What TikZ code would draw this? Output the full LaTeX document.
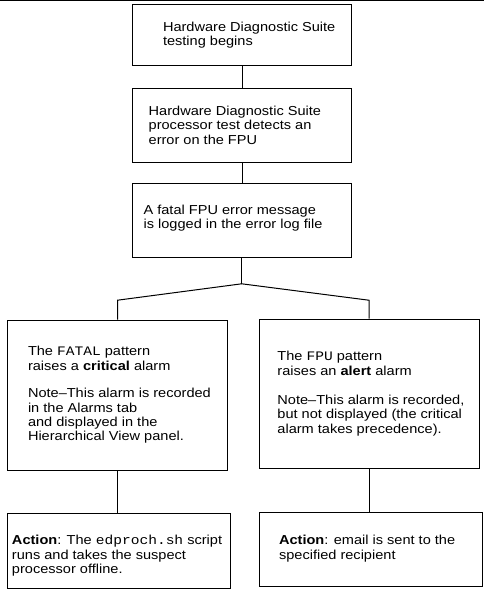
\documentclass[tikz,border=0pt]{standalone}
\usepackage{fontspec}
\setmainfont{Liberation Sans}[FakeStretch=1.12]
\setmonofont{Liberation Mono}[FakeStretch=1.12]
\usetikzlibrary{calc}
\begin{document}
\begin{tikzpicture}[x=1pt,y=-1pt,
  box/.style={draw, line width=1pt, inner sep=0pt, rectangle},
  txt/.style={anchor=west, align=left, inner sep=0pt, font=\fontsize{13}{14.4}\selectfont},
  conn/.style={line width=1pt}]
\useasboundingbox (0,0) rectangle (484,594);
\coordinate (tl) at (0,0.5);
\coordinate (tr) at (484,0.5);
\draw[conn] (tl) -- (tr);

\node[box, minimum width=219.4pt, minimum height=60.7pt] (b1) at (242,35.3) {};
\node[box, minimum width=219.4pt, minimum height=74pt] (b2) at (242,125.3) {};
\node[box, minimum width=219pt, minimum height=74pt] (b3) at (241.7,220.3) {};
\node[box, minimum width=220.4pt, minimum height=150pt] (b4) at (117.5,395) {};
\node[box, minimum width=219.7pt, minimum height=149.3pt] (b5) at (369.2,393.7) {};
\node[box, minimum width=222.3pt, minimum height=75pt] (b6) at (118.85,550.8) {};
\node[box, minimum width=222.7pt, minimum height=74.4pt] (b7) at (370.7,549.5) {};

\node[txt] (t1) at ($(b1.west)+(31,0)$) {Hardware Diagnostic Suite\\testing begins};
\node[txt] (t2) at ($(b2.west)+(16.7,0)$) {Hardware Diagnostic Suite\\processor test detects an\\error on the FPU};
\node[txt] (t3) at ($(b3.west)+(11.7,-2)$) {A fatal FPU error message\\is logged in the error log file};
\node[txt] (t4) at ($(b4.west)+(21,0)$) {The \texttt{FATAL} pattern\\raises a \textbf{critical} alarm\\[13pt]Note--This alarm is recorded\\in the Alarms tab\\and displayed in the\\Hierarchical View panel.};
\node[txt] (t5) at ($(b5.west)+(18.4,0)$) {The \texttt{FPU} pattern\\raises an \textbf{alert} alarm\\[15pt]Note--This alarm is recorded,\\but not displayed (the critical\\alarm takes precedence).};
\node[txt] (t6) at ($(b6.west)+(4.6,5)$) {\textbf{Action}: The \texttt{edproch.sh} script\\runs and takes the suspect\\processor offline.};
\node[txt] (t7) at ($(b7.west)+(20,-1)$) {\textbf{Action}: email is sent to the\\specified recipient};

\draw[conn] (b1.south) -- (b1.south |- b2.north);
\draw[conn] (b2.south) -- (b2.south |- b3.north);
\path (b3.south) ++(0,26) coordinate (j);
\path (b4.north) ++(0,-19.3) coordinate (jl);
\path (b5.north) ++(0,-18.3) coordinate (jr);
\draw[conn] (b3.south) -- (j);
\draw[conn] (j) -- (jl) -- (b4.north);
\draw[conn] (j) -- (jr) -- (b5.north);
\draw[conn] (b4.south) -- (b4.south |- b6.north);
\draw[conn] (b5.south) -- (b5.south |- b7.north);
\end{tikzpicture}
\end{document}
